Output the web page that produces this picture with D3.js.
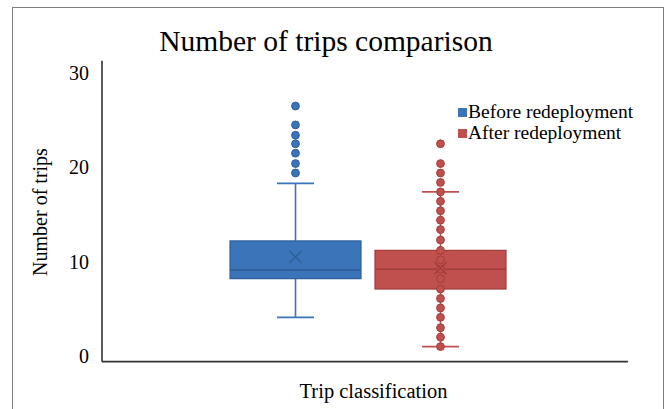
<!DOCTYPE html>
<html>
<head>
<meta charset="utf-8">
<script src="https://cdn.jsdelivr.net/npm/d3@7"></script>
<style>
  html, body { margin: 0; padding: 0; background: #ffffff; }
  svg { display: block; }
  text { font-family: "Liberation Serif", "Times New Roman", serif; fill: #000; }
</style>
</head>
<body>
<svg id="chart" width="667" height="409"></svg>
<script>
// ---- data ----
const chartTitle = "Number of trips comparison";
const yTitle = "Number of trips";
const categories = ["Trip classification"];
const series = ["Before redeployment", "After redeployment"];
const seriesColors = ["#3B74B8", "#C0504D"];
const seriesDark = ["#2E5E9A", "#9F3D3A"];
// stats order: min (lower whisker), q1, median, q3, max (upper whisker), mean
const beforeStats = [4.1, 8.2, 9.1, 12.2, 18.3, 10.5];
const afterStats = [1.0, 7.1, 9.2, 11.2, 17.4, 9.3];
// points shown (blue: outliers only; red: all points)
const beforePoints = [19.4, 20.4, 21.5, 22.5, 23.4, 24.5, 26.5];
const afterPoints = [1.0, 2.0, 3.0, 4.1, 5.1, 6.1, 7.1, 8.2, 9.2, 10.2, 11.2, 12.3, 13.4, 14.4, 15.4, 16.4, 17.4, 18.4, 19.4, 20.4, 22.5];
const yTicks = [0, 10, 20, 30];

const statsList = [beforeStats, afterStats];
const pointsList = [beforePoints, afterPoints];

// ---- layout ----
const svg = d3.select("#chart");

// outer border
svg.append("rect")
  .attr("x", 12.5).attr("y", 7.5)
  .attr("width", 651).attr("height", 420)
  .attr("fill", "#fff").attr("stroke", "#7f7f7f").attr("stroke-width", 1);

const y = d3.scaleLinear().domain([0, 30]).range([356, 73]);
const x0 = d3.scaleBand().domain(categories).range([102, 628]).paddingOuter(0.453).align(0.512);
const x1 = d3.scaleBand().domain(series).range([0, x0.bandwidth()]).paddingInner(0.0966);

const axisBottom = y(-0.6);
const axisTop = y(31.3);

// title
svg.append("text")
  .attr("x", 326).attr("y", 51)
  .attr("text-anchor", "middle")
  .style("font-size", "29.5px")
  .text(chartTitle);

// y tick labels
svg.append("g").selectAll("text").data(yTicks).join("text")
  .attr("x", 89).attr("y", d => y(d))
  .attr("dy", "0.35em")
  .attr("text-anchor", "end")
  .style("font-size", "20px")
  .text(d => d);

// y title
svg.append("text")
  .attr("transform", `translate(47, 212) rotate(-90)`)
  .attr("text-anchor", "middle")
  .style("font-size", "20px")
  .text(yTitle);

// x title
svg.append("text")
  .attr("x", 373.5).attr("y", 398)
  .attr("text-anchor", "middle")
  .style("font-size", "20.5px")
  .text(categories[0]);

// boxes
const capW = 37;
series.forEach((s, i) => {
  const [mn, q1, md, q3, mx, mean] = statsList[i];
  const bx = x0(categories[0]) + x1(s);
  const bw = x1.bandwidth();
  const cx = bx + bw / 2;
  const g = svg.append("g");
  const col = seriesColors[i], dark = seriesDark[i];

  // whiskers
  g.append("line").attr("x1", cx).attr("x2", cx).attr("y1", y(q3)).attr("y2", y(mx))
    .attr("stroke", col).attr("stroke-width", 1.6);
  g.append("line").attr("x1", cx).attr("x2", cx).attr("y1", y(q1)).attr("y2", y(mn))
    .attr("stroke", col).attr("stroke-width", 1.6);
  [mn, mx].forEach(v => {
    g.append("line").attr("x1", cx - capW / 2).attr("x2", cx + capW / 2)
      .attr("y1", y(v)).attr("y2", y(v))
      .attr("stroke", col).attr("stroke-width", 1.8);
  });
  // box
  g.append("rect").attr("x", bx).attr("y", y(q3))
    .attr("width", bw).attr("height", y(q1) - y(q3))
    .attr("fill", col).attr("stroke", dark).attr("stroke-width", 1.2);
  // median
  g.append("line").attr("x1", bx).attr("x2", bx + bw).attr("y1", y(md)).attr("y2", y(md))
    .attr("stroke", dark).attr("stroke-width", 1.6);
  // points
  g.selectAll("circle").data(pointsList[i]).join("circle")
    .attr("cx", cx).attr("cy", d => y(d)).attr("r", 3.9)
    .attr("fill", col).attr("stroke", dark).attr("stroke-width", 1);
  // mean X
  const m = 6;
  const my = y(mean);
  g.append("path")
    .attr("d", `M${cx - m},${my - m}L${cx + m},${my + m}M${cx - m},${my + m}L${cx + m},${my - m}`)
    .attr("stroke", dark).attr("stroke-width", 1.3).attr("fill", "none");
});

// axes lines
svg.append("line").attr("x1", 102).attr("x2", 102).attr("y1", axisTop).attr("y2", axisBottom)
  .attr("stroke", "#333").attr("stroke-width", 1.6);
svg.append("line").attr("x1", 102).attr("x2", 628).attr("y1", axisBottom).attr("y2", axisBottom)
  .attr("stroke", "#333").attr("stroke-width", 1.6);

// legend
const leg = svg.append("g");
series.forEach((s, i) => {
  const ly = 118 + i * 21;
  leg.append("rect").attr("x", 458).attr("y", ly - 10).attr("width", 9).attr("height", 9)
    .attr("fill", seriesColors[i]);
  leg.append("text").attr("x", 468).attr("y", ly)
    .style("font-size", "19.5px")
    .text(s);
});
</script>
</body>
</html>
